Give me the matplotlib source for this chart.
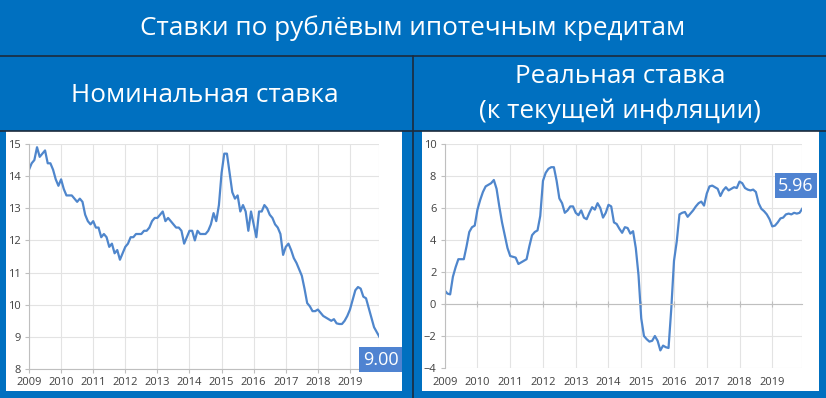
import matplotlib
matplotlib.use("Agg")
import matplotlib.pyplot as plt
from matplotlib.patches import Rectangle
from matplotlib.lines import Line2D
import numpy as np

plt.rcParams['font.family'] = ['Open Sans', 'DejaVu Sans']

title = "Ставки по рублёвым ипотечным кредитам"
left_title = "Номинальная ставка"
right_title = "Реальная ставка\n(к текущей инфляции)"

start_year = 2009
year_ticks = list(range(2009, 2020))

nominal = [
    14.2, 14.4, 14.5, 14.9, 14.6, 14.7, 14.8, 14.4, 14.4, 14.2, 13.9, 13.7,
    13.9, 13.6, 13.4, 13.4, 13.4, 13.3, 13.2, 13.3, 13.2, 12.8, 12.6, 12.5,
    12.6, 12.4, 12.4, 12.1, 12.2, 12.1, 11.8, 11.9, 11.6, 11.7, 11.4, 11.6,
    11.8, 11.9, 12.1, 12.1, 12.2, 12.2, 12.2, 12.3, 12.3, 12.4, 12.6, 12.7,
    12.7, 12.8, 12.9, 12.6, 12.7, 12.6, 12.5, 12.4, 12.4, 12.3, 11.9, 12.1,
    12.3, 12.3, 12.0, 12.3, 12.2, 12.2, 12.2, 12.3, 12.5, 12.85, 12.6, 13.1,
    14.1, 14.7, 14.7, 14.1, 13.5, 13.3, 13.4, 12.9, 13.1, 12.9, 12.3, 12.9,
    12.5, 12.1, 12.9, 12.9, 13.1, 13.0, 12.8, 12.7, 12.5, 12.4, 12.2, 11.55,
    11.8, 11.9, 11.7, 11.45, 11.3, 11.1, 10.9, 10.5, 10.05, 9.95, 9.8, 9.8,
    9.85, 9.75, 9.65, 9.6, 9.55, 9.5, 9.55, 9.42, 9.4, 9.4, 9.5, 9.65,
    9.85, 10.15, 10.45, 10.55, 10.5, 10.25, 10.2, 9.9, 9.6, 9.3, 9.15, 9.0,
]

real = [
    0.85, 0.65, 0.6, 1.7, 2.3, 2.8, 2.8, 2.8, 3.6, 4.5, 4.8, 4.9,
    5.9, 6.5, 7.0, 7.35, 7.45, 7.55, 7.75, 7.2, 6.1, 5.1, 4.3, 3.5,
    3.0, 2.95, 2.9, 2.5, 2.6, 2.7, 2.8, 3.6, 4.3, 4.5, 4.6, 5.5,
    7.7, 8.2, 8.45, 8.55, 8.55, 7.7, 6.6, 6.3, 5.7, 5.85, 6.1, 6.1,
    5.7, 5.55, 5.85, 5.4, 5.3, 5.7, 6.05, 5.9, 6.3, 6.0, 5.4, 5.7,
    6.2, 6.1, 5.1, 5.0, 4.7, 4.45, 4.8, 4.75, 4.4, 4.55, 3.5, 1.8,
    -0.9, -2.0, -2.2, -2.35, -2.3, -2.0, -2.3, -2.9, -2.6, -2.7, -2.75, -0.3,
    2.7, 3.9, 5.6, 5.7, 5.75, 5.45, 5.65, 5.85, 6.1, 6.3, 6.4, 6.15,
    6.9, 7.35, 7.4, 7.3, 7.2, 6.75, 7.1, 7.3, 7.1, 7.2, 7.3, 7.25,
    7.65, 7.55, 7.25, 7.15, 7.1, 7.15, 7.0, 6.3, 5.95, 5.8, 5.6, 5.3,
    4.85, 4.9, 5.1, 5.35, 5.4, 5.6, 5.65, 5.6, 5.7, 5.65, 5.7, 5.96,
]

W, H = 826, 398
BLUE = '#0070c0'
DARK = '#1c2b3c'
LINE = '#4f86cc'
LABEL_BG = '#4f83d1'
TICK_COL = '#404040'
GRID = '#e3e3e3'
TITLE_FS = 18.8
TICK_FS = 8

fig = plt.figure(figsize=(W / 100, H / 100), dpi=100, facecolor=BLUE)

def px_rect(x0, y0, x1, y1):
    return [x0 / W, 1 - y1 / H, (x1 - x0) / W, (y1 - y0) / H]

bg = fig.add_axes([0, 0, 1, 1])
bg.set_xlim(0, W)
bg.set_ylim(H, 0)
bg.axis('off')
bg.add_patch(Rectangle((6, 131), 396, 260, facecolor='white', edgecolor='none'))
bg.add_patch(Rectangle((422, 131), 397, 260, facecolor='white', edgecolor='none'))
bg.add_line(Line2D([0, W], [56, 56], color=DARK, lw=1.2))
bg.add_line(Line2D([0, W], [130.5, 130.5], color=DARK, lw=1.2))
bg.add_line(Line2D([412.5, 412.5], [56, H], color=DARK, lw=1.2))

bg.text(413, 28, title, color='white', fontsize=TITLE_FS, ha='center', va='center')
bg.text(205, 95, left_title, color='white', fontsize=TITLE_FS, ha='center', va='center')
bg.text(620, 94, right_title, color='white', fontsize=TITLE_FS, ha='center', va='center',
        linespacing=1.5)

x = [start_year + i / 12 for i in range(len(nominal))]
xr = [start_year + i / 12 for i in range(len(real))]

def style(ax, xs, ylim, yticks):
    ax.set_facecolor('white')
    ax.set_xlim(xs[0], xs[-1])
    ax.set_ylim(*ylim)
    ax.set_yticks(yticks)
    ax.set_xticks(year_ticks)
    ax.set_xticklabels([str(y) for y in year_ticks])
    ax.grid(True, color=GRID, lw=0.8)
    ax.axvline(xs[-1], color=GRID, lw=0.8, zorder=0)
    ax.set_axisbelow(True)
    for s in ['top', 'right']:
        ax.spines[s].set_visible(False)
    ax.spines['left'].set_color('#bfbfbf')
    ax.spines['bottom'].set_color('#bfbfbf')
    ax.tick_params(axis='both', colors='#bfbfbf', labelcolor=TICK_COL,
                   labelsize=TICK_FS, length=3, width=0.8)
    ax.tick_params(axis='x', pad=3)
    ax.tick_params(axis='y', pad=3)

# left axes
axl = fig.add_axes(px_rect(29, 144, 379.4, 369))
axl.plot(x, nominal, color=LINE, lw=1.6, solid_joinstyle='round')
style(axl, x, (8, 15), list(range(8, 16)))
axl.annotate(f"{nominal[-1]:.2f}", xy=(x[-1], nominal[-1]), xytext=(0.8, -16.5),
             textcoords='offset points', ha='center', va='center', color='white',
             fontsize=13, annotation_clip=False,
             bbox=dict(boxstyle='square,pad=0.2', fc=LABEL_BG, ec='none'))

# right axes
axr = fig.add_axes(px_rect(444.7, 144, 802.3, 368))
axr.plot(xr, real, color=LINE, lw=1.6, solid_joinstyle='round')
style(axr, xr, (-4, 10), list(range(-4, 11, 2)))
axr.spines['bottom'].set_position(('data', 0))
axr.tick_params(axis='x', which='both', direction='inout', length=4)
axr.set_xticklabels([])
for yv in year_ticks:
    axr.annotate(str(yv), xy=(yv, -4), xytext=(0, -10.3), textcoords='offset points',
                 ha='center', va='center', fontsize=TICK_FS, color=TICK_COL,
                 annotation_clip=False)
axr.annotate(f"{real[-1]:.2f}", xy=(xr[-1], real[-1]), xytext=(-4.5, 16.5),
             textcoords='offset points', ha='center', va='center', color='white',
             fontsize=13, annotation_clip=False,
             bbox=dict(boxstyle='square,pad=0.2', fc=LABEL_BG, ec='none'))

fig.savefig('out.png', dpi=100, facecolor=BLUE)
